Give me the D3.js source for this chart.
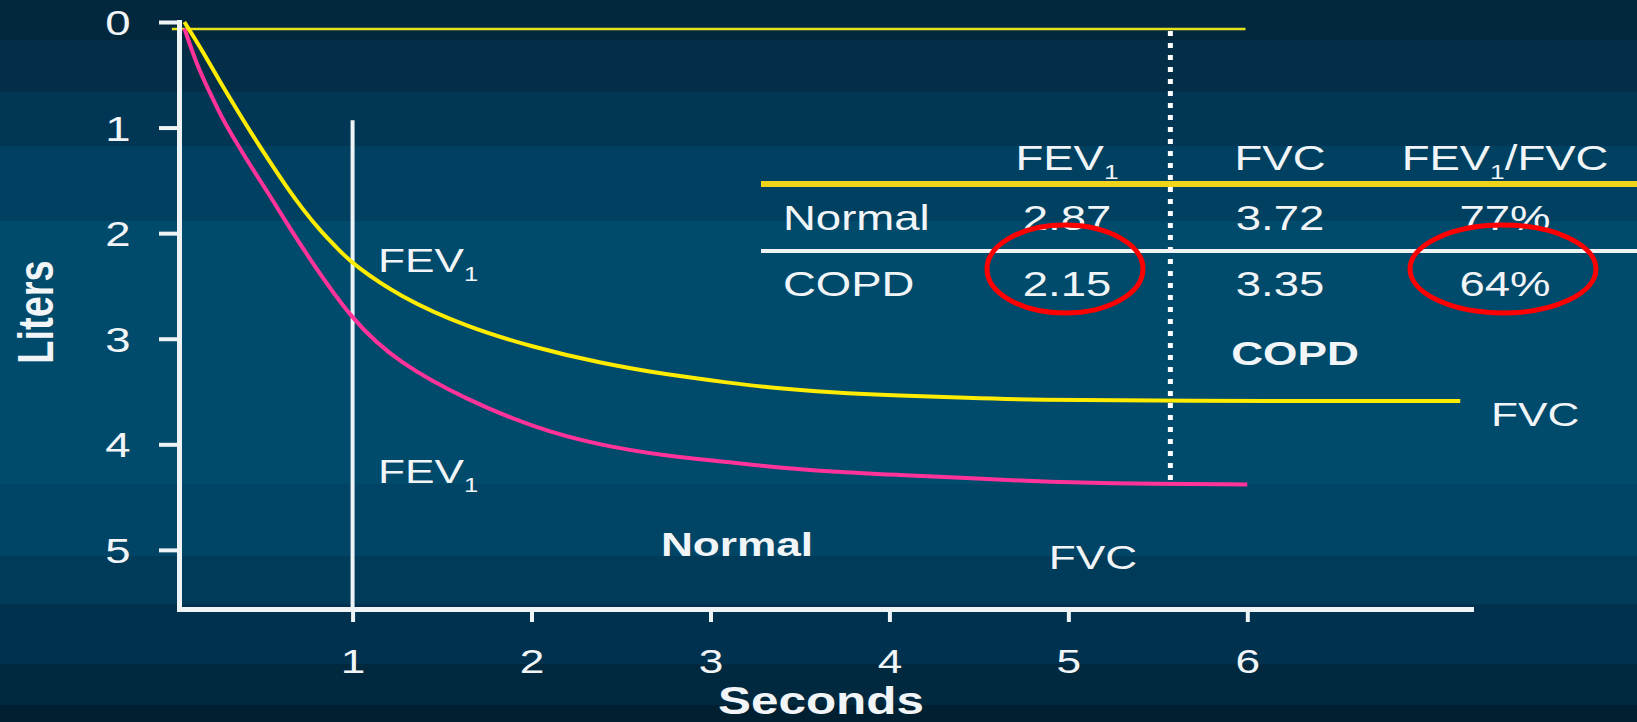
<!DOCTYPE html>
<html>
<head>
<meta charset="utf-8">
<script src="https://cdn.jsdelivr.net/npm/d3@7"></script>
<style>
  body { margin: 0; background: #004a6c; }
  svg { display: block; }
  text { font-family: "Liberation Sans", Arial, sans-serif; fill: #f1f5f7; }
</style>
</head>
<body>
<svg id="chart" width="1637" height="722"></svg>
<script>
// ---- data ----
const copdSeconds = [0.06, 0.16, 0.26, 0.35, 0.44, 0.54, 0.63, 0.72, 0.82, 0.93, 1.00, 1.26, 1.64, 2.01, 2.38, 2.75, 3.12, 3.31, 3.68, 4.06, 4.43, 4.80, 5.55, 7.19];
const copdLiters  = [0.00, 0.27, 0.57, 0.82, 1.07, 1.33, 1.56, 1.77, 1.98, 2.17, 2.29, 2.60, 2.89, 3.08, 3.23, 3.34, 3.42, 3.46, 3.51, 3.54, 3.56, 3.58, 3.59, 3.59];

const normalSeconds = [0.06, 0.13, 0.20, 0.27, 0.35, 0.44, 0.54, 0.63, 0.72, 1.00, 1.26, 1.64, 2.01, 2.38, 2.75, 3.12, 3.31, 3.68, 4.06, 4.43, 4.80, 5.17, 6.00];
const normalLiters  = [0.06, 0.41, 0.66, 0.91, 1.14, 1.39, 1.65, 1.90, 2.14, 2.84, 3.23, 3.58, 3.84, 4.01, 4.11, 4.17, 4.21, 4.26, 4.29, 4.32, 4.35, 4.37, 4.38];

const baselineSeconds = [-0.01, 5.99];
const baselineLiters = 0.066;
const fev1Second = 1;
const fev1LineTop = 0.93;
const dottedSecond = 5.57;
const dottedRange = [0.085, 4.38];

const xTicks = [1, 2, 3, 4, 5, 6];
const yTicks = [0, 1, 2, 3, 4, 5];

const tableColumns = ["FEV_1", "FVC", "FEV_1/FVC"];
const tableRows = ["Normal", "COPD"];
const normalValues = ["2.87", "3.72", "77%"];
const copdValues = ["2.15", "3.35", "64%"];
const circledColumns = [0, 2];

// ---- layout ----
const svg = d3.select("#chart");
const width = +svg.attr("width");
const height = +svg.attr("height");
const stretch = 1.3; // the slide text is horizontally stretched

const bands = [
  [0, 40, "#03283d"], [40, 92, "#022f47"], [92, 146, "#013755"], [146, 221, "#004162"],
  [221, 484, "#004a6b"], [484, 556, "#004466"], [556, 604, "#003b5a"], [604, 664, "#003250"],
  [664, 705, "#00293f"], [705, 722, "#001f31"]
];
svg.selectAll(".band")
  .data(bands)
  .enter()
  .append("rect")
  .attr("class", "band")
  .attr("x", 0)
  .attr("y", d => d[0])
  .attr("width", width)
  .attr("height", d => d[1] - d[0])
  .attr("fill", d => d[2]);

const x = d3.scaleLinear().domain([0.03, 7.25]).range([179, 1471]);
const y = d3.scaleLinear().domain([0, 5.56]).range([22, 609]);

// stretched text helper, "_1" becomes a subscript
function label(px, py, str, size, opts = {}) {
  const t = svg.append("text")
    .attr("transform", `translate(${px},${py}) scale(${stretch},1)`)
    .attr("font-size", size)
    .attr("font-weight", opts.bold ? "bold" : null)
    .attr("text-anchor", opts.anchor || "start");
  const parts = str.split("_");
  t.append("tspan").text(parts[0]);
  parts.slice(1).forEach(p => {
    t.append("tspan").attr("font-size", size * 0.58).attr("dy", 9).text(p[0]);
    if (p.length > 1) t.append("tspan").attr("dy", -9).text(p.slice(1));
  });
  return t;
}

// top baseline
svg.append("line")
  .attr("x1", x(baselineSeconds[0]))
  .attr("x2", x(baselineSeconds[1]))
  .attr("y1", y(baselineLiters))
  .attr("y2", y(baselineLiters))
  .attr("stroke", "#e4e41c")
  .attr("stroke-width", 2.5);

// FEV1 marker at 1 second
svg.append("line")
  .attr("x1", x(fev1Second))
  .attr("x2", x(fev1Second))
  .attr("y1", y(fev1LineTop))
  .attr("y2", y(5.56))
  .attr("stroke", "#eef3f5")
  .attr("stroke-width", 4);

// dotted marker
svg.append("line")
  .attr("x1", x(dottedSecond))
  .attr("x2", x(dottedSecond))
  .attr("y1", y(dottedRange[0]))
  .attr("y2", y(dottedRange[1]))
  .attr("stroke", "#ffffff")
  .attr("stroke-width", 5)
  .attr("stroke-dasharray", "5 7");

// axes
const xAxis = d3.axisBottom(x).tickValues(xTicks).tickSize(13).tickSizeOuter(0).tickFormat(d3.format("d"));
const yAxis = d3.axisLeft(y).tickValues(yTicks).tickSize(20).tickSizeOuter(0).tickFormat(d3.format("d"));

const gx = svg.append("g")
  .attr("transform", `translate(0, ${y(5.56)})`)
  .call(xAxis);
const gy = svg.append("g")
  .attr("transform", `translate(${x(0.03)}, 0)`)
  .call(yAxis);

[gx, gy].forEach(g => {
  g.select(".domain").attr("stroke", "#eef3f5").attr("stroke-width", 5).attr("stroke-linecap", "square");
  g.selectAll(".tick line").attr("stroke", "#eef3f5").attr("stroke-width", 4);
  g.selectAll(".tick text")
    .attr("fill", "#f1f5f7")
    .attr("font-family", "Liberation Sans, Arial, sans-serif")
    .attr("text-anchor", "middle");
});
gx.selectAll(".tick text")
  .attr("font-size", 34)
  .attr("y", null).attr("dy", null)
  .attr("transform", `translate(0,64) scale(${stretch},1)`);
gy.selectAll(".tick text")
  .attr("font-size", 35)
  .attr("x", null).attr("dy", "0.36em")
  .attr("transform", `translate(-61,0) scale(${stretch},1)`);

// axis titles
label(821, 714, "Seconds", 38, { bold: true, anchor: "middle" });
svg.append("text")
  .attr("transform", `translate(53,312) rotate(-90) scale(1,${stretch})`)
  .attr("font-size", 38)
  .attr("font-weight", "bold")
  .attr("text-anchor", "middle")
  .text("Liters");

// curves
const line = d3.line()
  .x(d => x(d[0]))
  .y(d => y(d[1]))
  .curve(d3.curveBasis);

svg.append("path")
  .datum(normalSeconds.map((s, i) => [s, normalLiters[i]]))
  .attr("d", line)
  .attr("fill", "none")
  .attr("stroke", "#ff3399")
  .attr("stroke-width", 4);

svg.append("path")
  .datum(copdSeconds.map((s, i) => [s, copdLiters[i]]))
  .attr("d", line)
  .attr("fill", "none")
  .attr("stroke", "#ffec00")
  .attr("stroke-width", 4);

// curve labels
label(378, 272, "FEV_1", 34);
label(378, 483, "FEV_1", 34);
label(1295, 365, "COPD", 34, { bold: true, anchor: "middle" });
label(1491, 426, "FVC", 34);
label(737, 556, "Normal", 34, { bold: true, anchor: "middle" });
label(1093, 569, "FVC", 34, { anchor: "middle" });

// table
const colX = [1067, 1280, 1505];
const rowY = [230, 296];

svg.append("line")
  .attr("x1", 761).attr("x2", width)
  .attr("y1", 184).attr("y2", 184)
  .attr("stroke", "#efd41a")
  .attr("stroke-width", 6);
svg.append("line")
  .attr("x1", 761).attr("x2", width)
  .attr("y1", 251).attr("y2", 251)
  .attr("stroke", "#eef3f5")
  .attr("stroke-width", 4);

tableColumns.forEach((c, i) => label(colX[i], 170, c, 35, { anchor: "middle" }));
tableRows.forEach((r, i) => label(783, rowY[i], r, 35));
normalValues.forEach((v, i) => label(colX[i], rowY[0], v, 35, { anchor: "middle" }));
copdValues.forEach((v, i) => label(colX[i], rowY[1], v, 35, { anchor: "middle" }));

// red circles round the COPD FEV1 and ratio
const circleRx = [78, 93];
circledColumns.forEach((c, i) => {
  svg.append("ellipse")
    .attr("cx", colX[c] - 2)
    .attr("cy", 269)
    .attr("rx", circleRx[i])
    .attr("ry", 44)
    .attr("fill", "none")
    .attr("stroke", "#ff0000")
    .attr("stroke-width", 5);
});
</script>
</body>
</html>
